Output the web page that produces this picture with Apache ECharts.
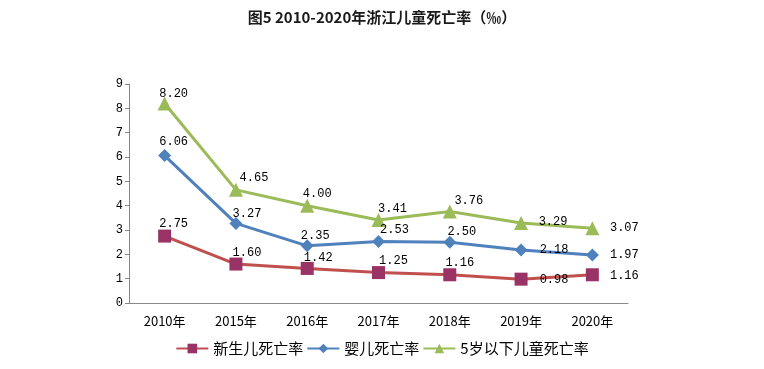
<!DOCTYPE html>
<html><head><meta charset="utf-8">
<script src="https://cdn.jsdelivr.net/npm/echarts@6/dist/echarts.min.js"></script>
<style>html,body{margin:0;padding:0;background:#fff}#c{width:764px;height:369px}</style>
</head><body><div id="c"></div>
<script>
const categories = ['2010年','2015年','2016年','2017年','2018年','2019年','2020年'];
const neonatal = [2.75, 1.60, 1.42, 1.25, 1.16, 0.98, 1.16];
const infant = [6.06, 3.27, 2.35, 2.53, 2.50, 2.18, 1.97];
const under5 = [8.20, 4.65, 4.00, 3.41, 3.76, 3.29, 3.07];
const seriesNames = ['新生儿死亡率','婴儿死亡率','5岁以下儿童死亡率'];
const yTicks = [0,1,2,3,4,5,6,7,8,9];

// label offsets (style only)
const offNeo = [[9,-12],[11,-11],[11,-11],[15,-12],[10,-12],[33,1],[32,1]];
const offInf = [[9,-14],[11,-10],[8,-10],[16,-12],[12,-10],[33,0],[32,0]];
const offU5  = [[9,-10],[18,-12],[10,-12],[14,-11],[19,-11],[32,-1],[32,0]];

function mk(vals, offs){
  return vals.map((v,i)=>({value:v, label:{offset:offs[i]}}));
}
const lblFont = {fontFamily:'Liberation Mono', fontSize:12, color:'#000'};
const chart = echarts.init(document.getElementById('c'));
chart.setOption({
  animation:false,
  title:{text:'图5 2010-2020年浙江儿童死亡率（‰）', left:'center', top:5,
    textStyle:{fontFamily:'Noto Sans CJK SC', fontSize:15, fontWeight:'bold', color:'#1a1a1a'}},
  grid:{left:129, right:136, top:84, bottom:66},
  legend:{bottom:8, left:'center', itemWidth:32, itemHeight:12, itemGap:3,
    textStyle:{fontFamily:'Noto Sans CJK SC', fontSize:15, color:'#000'},
    data:seriesNames},
  xAxis:{type:'category', data:categories, boundaryGap:true,
    axisLine:{lineStyle:{color:'#888', width:1}},
    axisTick:{show:false},
    axisLabel:{fontFamily:'Noto Sans CJK SC', fontSize:13, color:'#000', margin:12}},
  yAxis:{type:'value', min:yTicks[0], max:yTicks[yTicks.length-1], interval:1,
    splitLine:{show:false},
    axisLine:{show:true, lineStyle:{color:'#888'}},
    axisTick:{show:true, length:4, lineStyle:{color:'#888'}},
    axisLabel:{fontFamily:'Liberation Mono', fontSize:12, color:'#000', margin:6}},
  series:[
    {name:seriesNames[0], type:'line', data:mk(neonatal,offNeo), symbol:'rect', symbolSize:13,
      lineStyle:{color:'#C0504D', width:3}, itemStyle:{color:'#993366'},
      label:{show:true, position:'inside', formatter:p=>p.value.toFixed(2), ...lblFont}},
    {name:seriesNames[1], type:'line', data:mk(infant,offInf), symbol:'diamond', symbolSize:13,
      lineStyle:{color:'#4F81BD', width:3}, itemStyle:{color:'#4F81BD'},
      label:{show:true, position:'inside', formatter:p=>p.value.toFixed(2), ...lblFont}},
    {name:seriesNames[2], type:'line', data:mk(under5,offU5), symbol:'triangle', symbolSize:14,
      lineStyle:{color:'#9BBB59', width:3}, itemStyle:{color:'#9BBB59'},
      label:{show:true, position:'inside', formatter:p=>p.value.toFixed(2), ...lblFont}}
  ]
});
</script></body></html>
